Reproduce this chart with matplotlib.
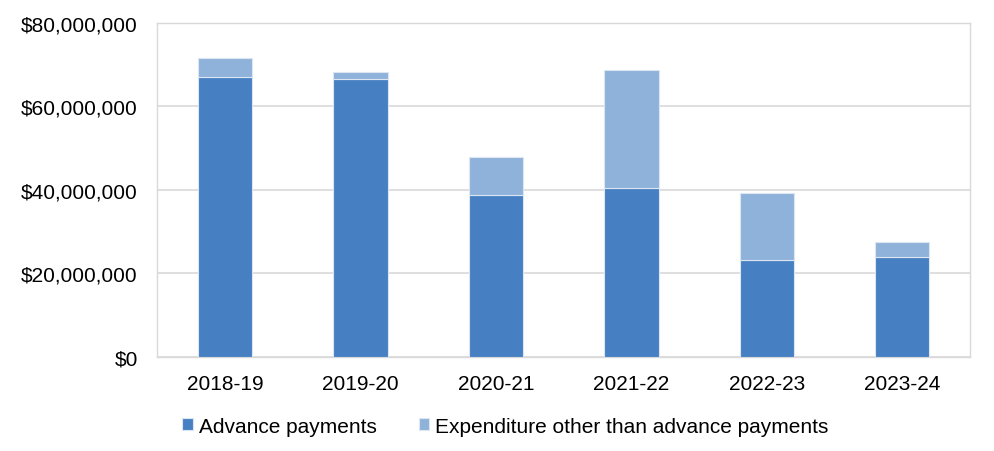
import matplotlib
matplotlib.use("Agg")
import matplotlib.pyplot as plt
from matplotlib.ticker import FuncFormatter, MultipleLocator

# data (in $ millions)
years = ["2018-19", "2019-20", "2020-21", "2021-22", "2022-23", "2023-24"]
advance = [67.0, 66.6, 38.9, 40.5, 23.3, 24.0]
totals = [71.6, 68.2, 47.8, 68.8, 39.2, 27.6]
other = [t - a for t, a in zip(totals, advance)]

advance = [v * 1e6 for v in advance]
other = [v * 1e6 for v in other]

dark = "#4680C2"
light = "#8FB2DA"
grid = "#D9D9D9"

plt.rcParams["font.family"] = ["Liberation Sans", "DejaVu Sans"]
plt.rcParams["font.size"] = 15

fig = plt.figure(figsize=(9.95, 4.52), dpi=100)
ax = fig.add_axes([0.158, 0.208, 0.817, 0.739])

x = range(len(years))
ax.bar(x, advance, width=0.4, color=dark, edgecolor="#DCE6F2",
       linewidth=0.8, label="Advance payments", zorder=3)
ax.bar(x, other, width=0.4, bottom=advance, color=light, edgecolor="#DCE6F2",
       linewidth=0.8, label="Expenditure other than advance payments", zorder=3)

ax.set_xlim(-0.5, len(years) - 0.5)
ax.set_ylim(0, 80e6)
ax.yaxis.set_major_locator(MultipleLocator(20e6))
ax.yaxis.set_major_formatter(FuncFormatter(lambda v, p: "${:,.0f}".format(v)))
ax.set_xticks(list(x))
ax.set_xticklabels(years)
ax.tick_params(axis="y", length=0, pad=14)
ax.tick_params(axis="x", length=0, pad=12)
ax.grid(axis="y", color=grid, linewidth=1.2, zorder=0)

for s in ax.spines.values():
    s.set_color(grid)
    s.set_linewidth(1.0)

fig.legend(loc="center", bbox_to_anchor=(0.508, 0.055), ncol=2, frameon=False,
           handlelength=0.5, handleheight=0.5, handletextpad=0.3,
           columnspacing=2.0, borderaxespad=0)

fig.savefig("out.png", dpi=100)
